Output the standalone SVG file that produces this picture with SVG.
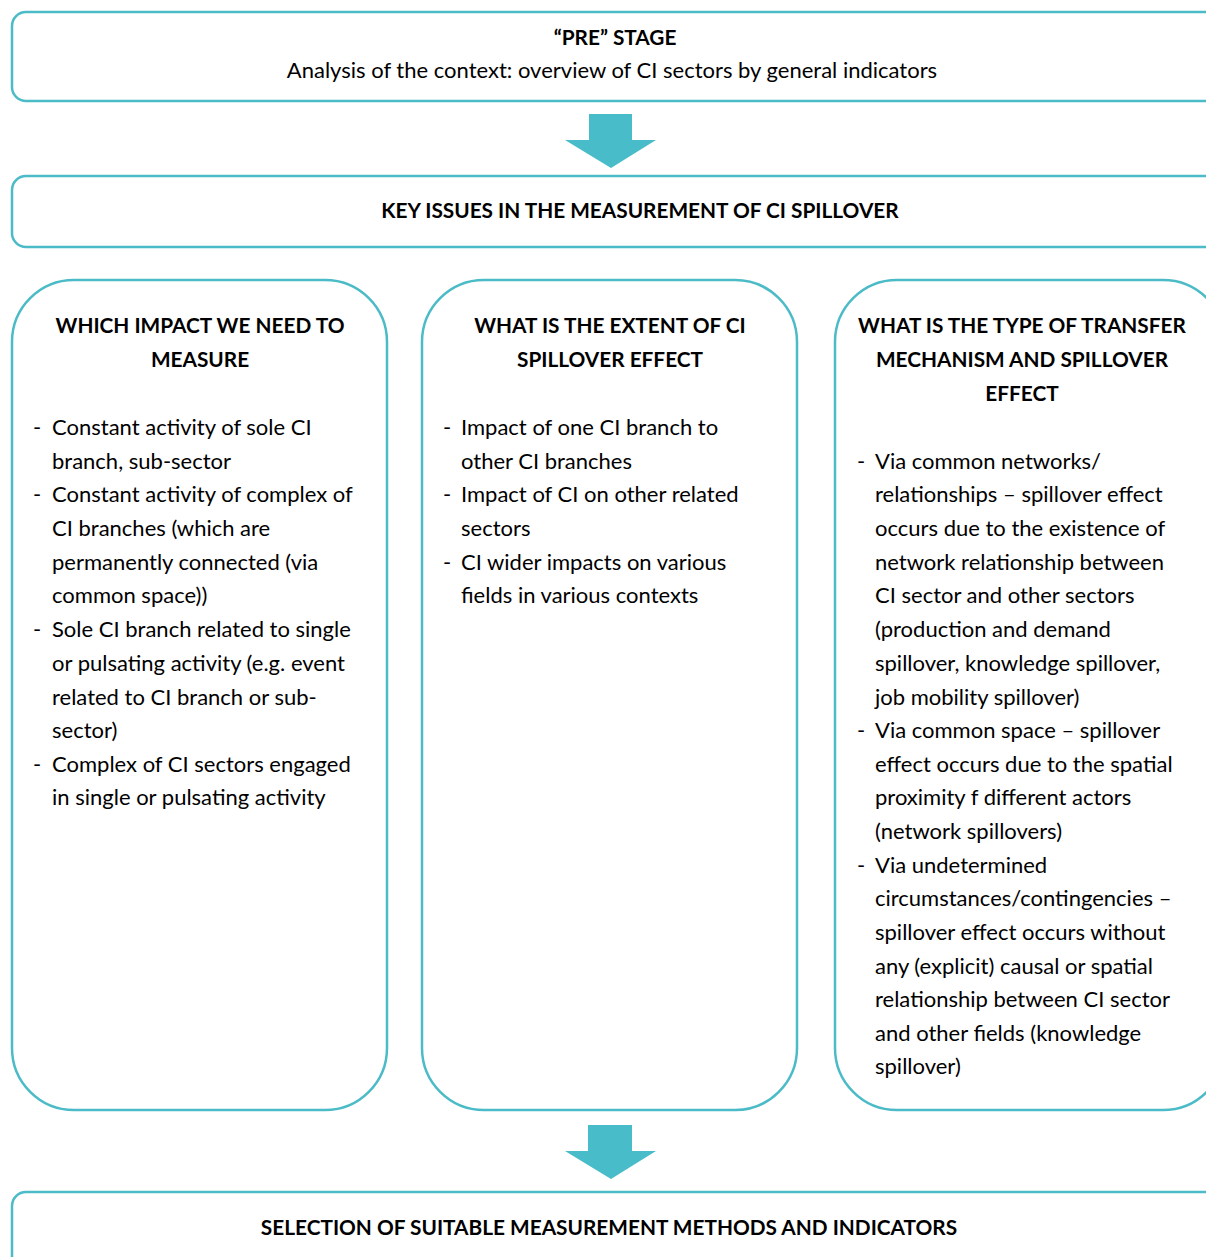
<svg xmlns="http://www.w3.org/2000/svg" width="1206" height="1257" viewBox="0 0 1206 1257">
<style>
.box{fill:#fff;stroke:#4BBBC7;stroke-width:2.5}
.arr{fill:#48BCC8}
text{font-family:Lato,"Open Sans",sans-serif;font-size:22px;fill:#000}
.b{font-weight:bold;font-size:20.8px}
.c{text-anchor:middle}
</style>
<rect width="1206" height="1257" fill="#fff"/>
<g id="connectors">
<polygon class="arr" points="589,114 632,114 632,140 656,140 611,168 565,140 589,140"/>
<polygon class="arr" points="588,1125 632,1125 632,1151 656,1151 611,1179 565,1151 588,1151"/>
</g>
<g id="pre">
<rect class="box" x="12" y="12" width="1210" height="89" rx="14"/>
<text class="b c" x="615" y="45">“PRE” STAGE</text>
<text class="c" x="612" y="78">Analysis of the context: overview of CI sectors by general indicators</text>
</g>
<g id="key">
<rect class="box" x="12" y="176" width="1210" height="71" rx="14"/>
<text class="b c" x="640" y="218">KEY ISSUES IN THE MEASUREMENT OF CI SPILLOVER</text>
</g>
<g id="col1">
<rect class="box" x="12" y="280" width="375" height="830" rx="62"/>
<text class="b c" x="200" y="333">WHICH IMPACT WE NEED TO</text>
<text class="b c" x="200" y="367">MEASURE</text>
<text x="33" y="435">-</text><text x="52" y="435">Constant activity of sole CI</text>
<text x="52" y="469">branch, sub-sector</text>
<text x="33" y="502">-</text><text x="52" y="502">Constant activity of complex of</text>
<text x="52" y="536">CI branches (which are</text>
<text x="52" y="570">permanently connected (via</text>
<text x="52" y="603">common space))</text>
<text x="33" y="637">-</text><text x="52" y="637">Sole CI branch related to single</text>
<text x="52" y="671">or pulsating activity (e.g. event</text>
<text x="52" y="705">related to CI branch or sub-</text>
<text x="52" y="738">sector)</text>
<text x="33" y="772">-</text><text x="52" y="772">Complex of CI sectors engaged</text>
<text x="52" y="805">in single or pulsating activity</text>
</g>
<g id="col2">
<rect class="box" x="422" y="280" width="375" height="830" rx="62"/>
<text class="b c" x="610" y="333">WHAT IS THE EXTENT OF CI</text>
<text class="b c" x="610" y="367">SPILLOVER EFFECT</text>
<text x="443" y="435">-</text><text x="461" y="435">Impact of one CI branch to</text>
<text x="461" y="469">other CI branches</text>
<text x="443" y="502">-</text><text x="461" y="502">Impact of CI on other related</text>
<text x="461" y="536">sectors</text>
<text x="443" y="570">-</text><text x="461" y="570">CI wider impacts on various</text>
<text x="461" y="603">fields in various contexts</text>
</g>
<g id="col3">
<rect class="box" x="835" y="280" width="390" height="830" rx="62"/>
<text class="b c" x="1022" y="333">WHAT IS THE TYPE OF TRANSFER</text>
<text class="b c" x="1022" y="367">MECHANISM AND SPILLOVER</text>
<text class="b c" x="1022" y="401">EFFECT</text>
<text x="857" y="469">-</text><text x="875" y="469">Via common networks/</text>
<text x="875" y="502">relationships – spillover effect</text>
<text x="875" y="536">occurs due to the existence of</text>
<text x="875" y="570">network relationship between</text>
<text x="875" y="603">CI sector and other sectors</text>
<text x="875" y="637">(production and demand</text>
<text x="875" y="671">spillover, knowledge spillover,</text>
<text x="875" y="705">job mobility spillover)</text>
<text x="857" y="738">-</text><text x="875" y="738">Via common space – spillover</text>
<text x="875" y="772">effect occurs due to the spatial</text>
<text x="875" y="805">proximity f different actors</text>
<text x="875" y="839">(network spillovers)</text>
<text x="857" y="873">-</text><text x="875" y="873">Via undetermined</text>
<text x="875" y="906">circumstances/contingencies –</text>
<text x="875" y="940">spillover effect occurs without</text>
<text x="875" y="974">any (explicit) causal or spatial</text>
<text x="875" y="1007">relationship between CI sector</text>
<text x="875" y="1041">and other fields (knowledge</text>
<text x="875" y="1074">spillover)</text>
</g>
<g id="selection">
<rect class="box" x="12" y="1192" width="1210" height="90" rx="14"/>
<text class="b c" x="609" y="1235">SELECTION OF SUITABLE MEASUREMENT METHODS AND INDICATORS</text>
</g>
</svg>
